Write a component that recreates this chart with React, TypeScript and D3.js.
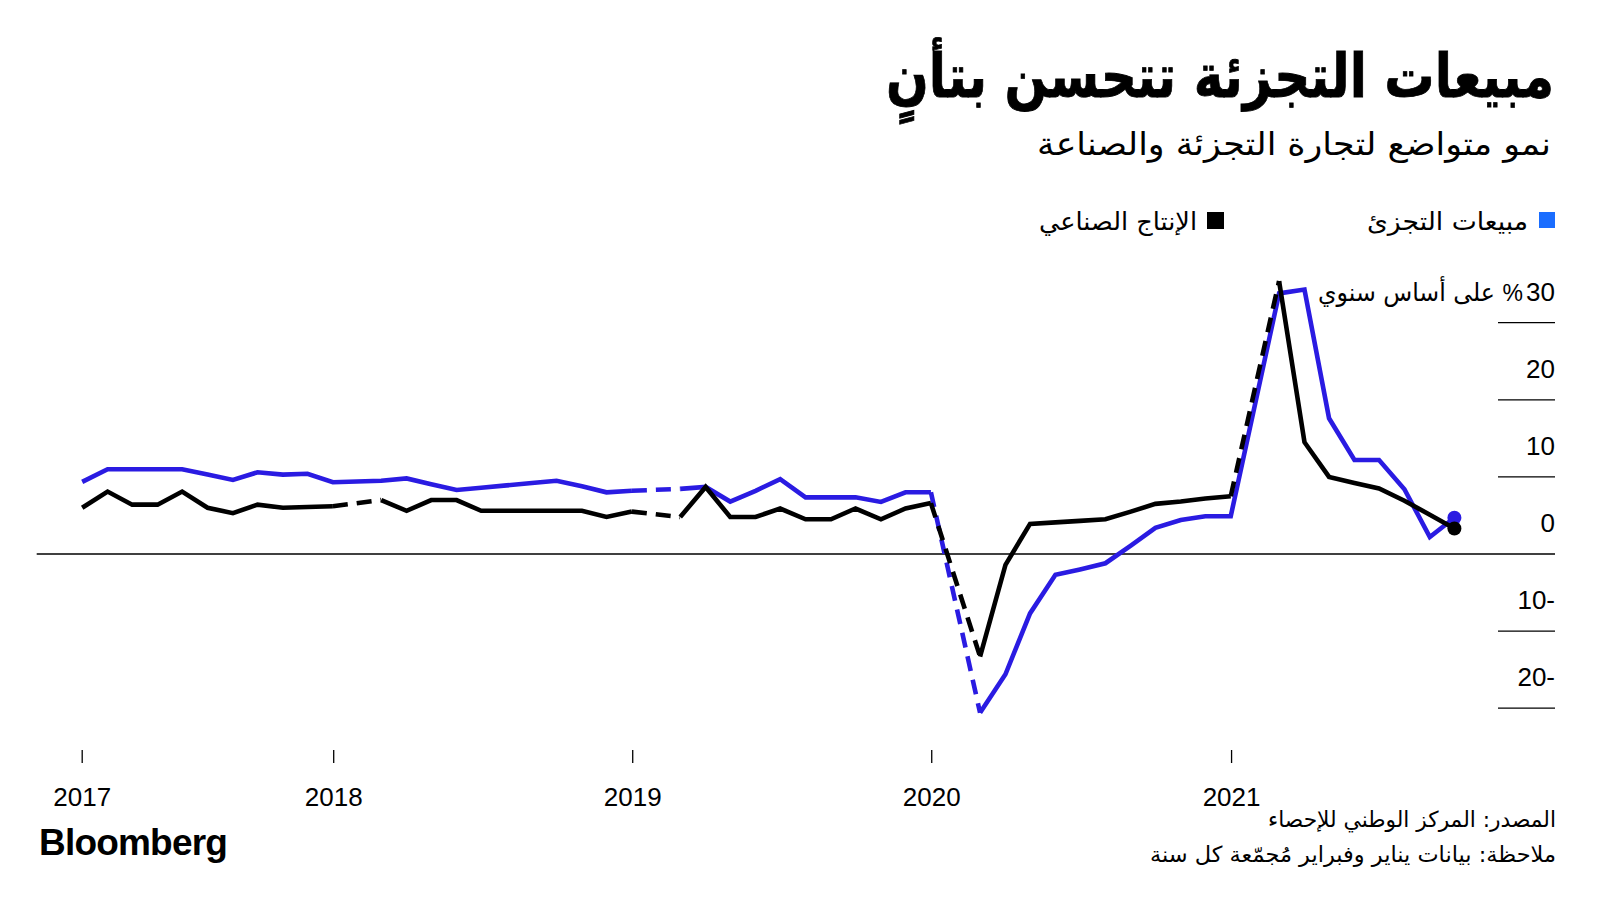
import React from "react";
import * as d3 from "d3";

// ---- Data (YoY %, month-end; January folded into February each year) ----
const monthKeys = [
  "2017-02","2017-03","2017-04","2017-05","2017-06","2017-07","2017-08","2017-09","2017-10","2017-11","2017-12",
  "2018-02","2018-03","2018-04","2018-05","2018-06","2018-07","2018-08","2018-09","2018-10","2018-11","2018-12",
  "2019-02","2019-03","2019-04","2019-05","2019-06","2019-07","2019-08","2019-09","2019-10","2019-11","2019-12",
  "2020-02","2020-03","2020-04","2020-05","2020-06","2020-07","2020-08","2020-09","2020-10","2020-11","2020-12",
  "2021-02","2021-03","2021-04","2021-05","2021-06","2021-07","2021-08","2021-09",
];

const retailSales = [
  9.35, 11.0, 11.0, 11.0, 11.0, 10.3, 9.6, 10.6, 10.3, 10.4, 9.3,
  9.5, 9.8, 9.05, 8.3, 8.6, 8.9, 9.2, 9.5, 8.8, 8.0, 8.2,
  8.45, 8.7, 6.8, 8.2, 9.7, 7.35, 7.35, 7.35, 6.75, 8.0, 8.0,
  -20.6, -15.6, -7.7, -2.7, -2.0, -1.2, 1.1, 3.4, 4.4, 4.9, 4.9,
  33.8, 34.3, 17.6, 12.2, 12.2, 8.4, 2.2, 4.7,
];

const industrialProduction = [
  6.0, 8.1, 6.4, 6.4, 8.1, 6.0, 5.3, 6.4, 6.0, 6.1, 6.2,
  7.0, 5.6, 7.0, 7.0, 5.6, 5.6, 5.6, 5.6, 5.6, 4.8, 5.5,
  4.8, 8.7, 4.8, 4.8, 5.9, 4.5, 4.5, 5.9, 4.5, 5.9, 6.6,
  -13.3, -1.4, 3.9, 4.1, 4.3, 4.5, 5.5, 6.5, 6.8, 7.2, 7.5,
  35.4, 14.5, 10.0, 9.2, 8.5, 6.9, 5.1, 3.3,
];

// years whose Dec -> Jan/Feb link is drawn dashed
const retailDashedYears = [2019, 2020];
const industryDashedYears = [2018, 2019, 2020, 2021];

const yearTickLabels = ["2017", "2018", "2019", "2020", "2021"];
const yTickValues = [30, 20, 10, 0, -10, -20];
const yTickLabels = ["30", "20", "10", "0", "10-", "20-"];

const titleText = "مبيعات التجزئة تتحسن بتأنٍ";
const subtitleText = "نمو متواضع لتجارة التجزئة والصناعة";
const legendRetail = "مبيعات التجزئ";
const legendIndustry = "الإنتاج الصناعي";
const unitText = "على أساس سنوي";
const sourceText = "المصدر: المركز الوطني للإحصاء";
const noteText = "ملاحظة: بيانات يناير وفبراير مُجمّعة كل سنة";

// ---- Styles ----
const BLUE_LINE = "#2a1be2";
const BLUE_KEY = "#1a6dff";
const BLACK = "#000000";
const AR_FONT = "'DejaVu Sans', sans-serif";
const NUM_FONT = "'Liberation Sans', Arial, sans-serif";

type Pt = { key: string; date: Date; value: number };

const parseMonthEnd = (k: string) => {
  const [y, m] = k.split("-").map(Number);
  return new Date(y, m, 0);
};

function buildSegments(values: number[], dashedYears: number[]) {
  const pts: Pt[] = monthKeys.map((k, i) => ({ key: k, date: parseMonthEnd(k), value: values[i] }));
  const solid: Pt[][] = [];
  const dashed: Pt[][] = [];
  let run: Pt[] = [pts[0]];
  for (let i = 1; i < pts.length; i++) {
    const cur = pts[i];
    const yr = +cur.key.slice(0, 4);
    if (cur.key.endsWith("-02") && dashedYears.includes(yr)) {
      solid.push(run);
      dashed.push([pts[i - 1], cur]);
      run = [cur];
    } else {
      run.push(cur);
    }
  }
  solid.push(run);
  return { pts, solid, dashed };
}

export default function App() {
  const W = 1600;
  const H = 900;
  const plotLeft = 82.2;
  const plotRight = 1454.4;
  const axisRight = 1555;

  const firstDate = parseMonthEnd(monthKeys[0]);
  const lastDate = parseMonthEnd(monthKeys[monthKeys.length - 1]);

  const x = d3.scaleTime().domain([firstDate, lastDate]).range([plotLeft, plotRight]);
  const y = d3.scaleLinear().domain([-20, 30]).range([708.2, 322.7]);

  const line = d3
    .line<Pt>()
    .x((d) => x(d.date))
    .y((d) => y(d.value));

  const retail = buildSegments(retailSales, retailDashedYears);
  const industry = buildSegments(industrialProduction, industryDashedYears);

  const tickDates = yearTickLabels.map((yr, i) => (i === 0 ? firstDate : new Date(+yr, 0, 1)));

  const SW = 4.6;
  const renderSeries = (s: ReturnType<typeof buildSegments>, color: string, id: string) => (
    <g key={id}>
      {s.solid.map((r, i) => (
        <path key={"s" + i} d={line(r) || ""} fill="none" stroke={color} strokeWidth={SW} strokeLinejoin="miter" />
      ))}
      {s.dashed.map((r, i) => (
        <path
          key={"d" + i}
          d={line(r) || ""}
          fill="none"
          stroke={color}
          strokeWidth={SW}
          strokeDasharray="15,9"
        />
      ))}
    </g>
  );

  const lastR = retail.pts[retail.pts.length - 1];
  const lastI = industry.pts[industry.pts.length - 1];

  return (
    <svg
      width={W}
      height={H}
      viewBox={`0 0 ${W} ${H}`}
      style={{ position: "absolute", left: 0, top: 0, background: "#fff" }}
    >
      <rect x={0} y={0} width={W} height={H} fill="#fff" />

      {/* Title & subtitle */}
      <text x={1554} y={97} textAnchor="end" fontFamily={AR_FONT} fontWeight={700} fontSize={60}
        textLength={668} lengthAdjust="spacingAndGlyphs" fill="#000" stroke="#000" strokeWidth={0.8}>
        {titleText}
      </text>
      <text x={1551} y={155} textAnchor="end" fontFamily={AR_FONT} fontSize={32}
        textLength={514} lengthAdjust="spacingAndGlyphs" fill="#000">
        {subtitleText}
      </text>

      {/* Legend */}
      <rect x={1539} y={212} width={16} height={16} fill={BLUE_KEY} />
      <text x={1528} y={230} textAnchor="end" fontFamily={AR_FONT} fontSize={25}
        textLength={161} lengthAdjust="spacingAndGlyphs" fill="#000">
        {legendRetail}
      </text>
      <rect x={1207} y={212} width={17} height={17} fill={BLACK} />
      <text x={1197} y={230} textAnchor="end" fontFamily={AR_FONT} fontSize={25}
        textLength={158} lengthAdjust="spacingAndGlyphs" fill="#000">
        {legendIndustry}
      </text>

      {/* Y grid + labels */}
      {yTickValues.map((v) =>
        v === 0 ? (
          <line key={"g" + v} x1={36.7} x2={axisRight} y1={y(v)} y2={y(v)} stroke="#000" strokeWidth={1.3} />
        ) : (
          <line key={"g" + v} x1={1498} x2={axisRight} y1={y(v)} y2={y(v)} stroke="#000" strokeWidth={1.3} />
        )
      )}
      {yTickValues.map((v, i) => (
        <text key={"l" + v} x={axisRight} y={y(v) - 22} textAnchor="end" fontFamily={NUM_FONT} fontSize={26} fill="#000">
          {yTickLabels[i]}
        </text>
      ))}
      <text x={1523} y={y(30) - 22} textAnchor="end" fontFamily={NUM_FONT} fontSize={23} fill="#000">%</text>
      <text x={1495} y={y(30) - 22} textAnchor="end" fontFamily={AR_FONT} fontSize={25}
        textLength={177} lengthAdjust="spacingAndGlyphs" fill="#000">
        {unitText}
      </text>

      {/* X ticks */}
      {tickDates.map((d, i) => (
        <g key={"t" + i}>
          <line x1={x(d)} x2={x(d)} y1={750} y2={763} stroke="#000" strokeWidth={1.3} />
          <text x={x(d)} y={806} textAnchor="middle" fontFamily={NUM_FONT} fontSize={26} fill="#000">
            {yearTickLabels[i]}
          </text>
        </g>
      ))}

      {/* Series */}
      {renderSeries(retail, BLUE_LINE, "retail")}
      {renderSeries(industry, BLACK, "industry")}
      <circle cx={x(lastR.date)} cy={y(lastR.value)} r={7} fill={BLUE_LINE} />
      <circle cx={x(lastI.date)} cy={y(lastI.value)} r={7} fill={BLACK} />

      {/* Footer */}
      <text x={39} y={855} fontFamily={NUM_FONT} fontWeight={700} fontSize={37} letterSpacing={-0.8} fill="#000">
        Bloomberg
      </text>
      <text x={1556} y={827} textAnchor="end" fontFamily={AR_FONT} fontSize={22}
        textLength={288} lengthAdjust="spacingAndGlyphs" fill="#000">
        {sourceText}
      </text>
      <text x={1556} y={862} textAnchor="end" fontFamily={AR_FONT} fontSize={22}
        textLength={406} lengthAdjust="spacingAndGlyphs" fill="#000">
        {noteText}
      </text>
    </svg>
  );
}
